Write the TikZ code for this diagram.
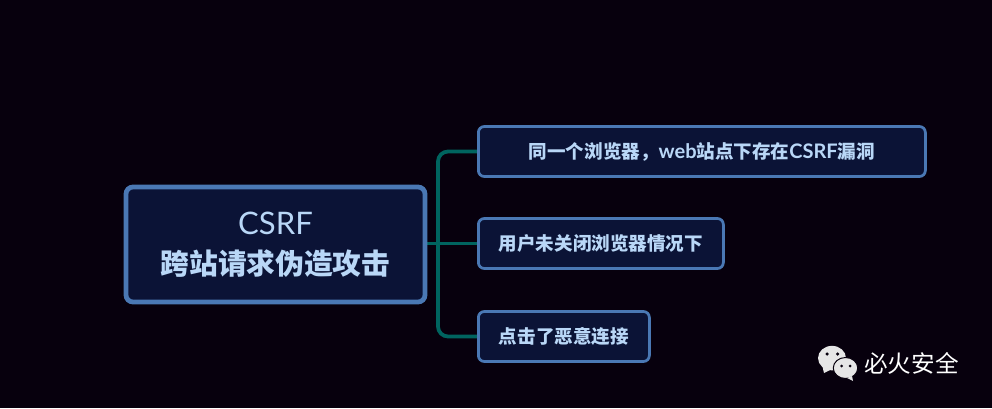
\documentclass[tikz,border=0pt]{standalone}
\usepackage{fontspec}
\setmainfont{Lato}[Scale=1.08]
\newfontfamily\cjk{Noto Sans CJK SC}
\usepackage{xcolor}
\usetikzlibrary{positioning,calc}
\definecolor{pagebg}{HTML}{07000D}
\definecolor{boxfill}{HTML}{0B1336}
\definecolor{boxline}{HTML}{4A78B4}
\definecolor{boxtext}{HTML}{B9D7F7}
\definecolor{linkteal}{HTML}{00645F}
\definecolor{iconfg}{HTML}{E6E6E6}
\tikzset{
  rootbox/.style ={draw=boxline,fill=boxfill,text=boxtext,line width=0.95mm,rounded corners=1.4mm,
                   minimum width=5.98cm,minimum height=2.3cm,inner sep=0pt,align=center,
                   font=\fontsize{16.35pt}{22.5pt}\selectfont},
  leafbox/.style ={draw=boxline,fill=boxfill,text=boxtext,line width=0.55mm,rounded corners=1.2mm,
                   minimum height=1.0cm,inner sep=0pt,anchor=west,font=\fontsize{10.55pt}{12pt}\selectfont},
  link/.style    ={draw=linkteal,line width=0.75mm,rounded corners=2mm},
  brandlbl/.style={text=white,font=\fontsize{13.4pt}{15pt}\cjk\selectfont,inner sep=0pt},
}
\begin{document}
\begin{tikzpicture}
  \fill[pagebg] (0,0) rectangle (19.84,8.16);
  \useasboundingbox (0,0) rectangle (19.84,8.16);
  % connectors go first, boxes sit on top
  \coordinate (fork) at (8.76,3.29);
  \coordinate (rootport) at (8.4,3.29);
  \coordinate (leafaport) at (9.54,5.13);
  \coordinate (leafbport) at (9.54,3.29);
  \coordinate (leafcport) at (9.54,1.43);
  \draw[link] (fork) |- (leafaport);
  \draw[link] (fork) |- (leafcport);
  \draw[link] (rootport) -- (leafbport);
  % root on the left, three leaves to the right of the fork
  \node[rootbox] (root) at (5.51,3.27)
        {CSRF\\{\cjk\bfseries 跨站请求伪造攻击}};
  \node[leafbox,minimum width=8.94cm] (leafa) at (leafaport)
        {\textbf{{\cjk 同一个浏览器，}web{\cjk 站点下存在}CSRF{\cjk 漏洞}}};
  \node[leafbox,minimum width=4.9cm] (leafb) at (leafbport)
        {{\cjk\bfseries 用户未关闭浏览器情况下}};
  \node[leafbox,minimum width=3.42cm] (leafc) at (leafcport)
        {{\cjk\bfseries 点击了恶意连接}};
  % wechat mark bottom right
  \fill[iconfg] (16.64,0.998) ellipse (0.28 and 0.245);
  \fill[iconfg] (16.45,0.828) -- ++(0.03,-0.13) -- ++(0.14,0.07) -- cycle;
  \fill[iconfg,draw=pagebg,line width=0.2mm] (16.91,0.8) ellipse (0.245 and 0.21);
  \fill[iconfg] (17.04,0.64) -- ++(0.02,-0.1) -- ++(-0.12,0.06) -- cycle;
  \foreach \ex/\ey in {16.54/1.08,16.75/1.08}{\fill[pagebg] (\ex,\ey) circle (0.035);}
  \foreach \ex/\ey in {16.83/0.84,17.0/0.84}{\fill[pagebg] (\ex,\ey) circle (0.03);}
  \node[brandlbl,anchor=west] (brand) at (17.28,0.9) {必火安全};
\end{tikzpicture}
\end{document}
